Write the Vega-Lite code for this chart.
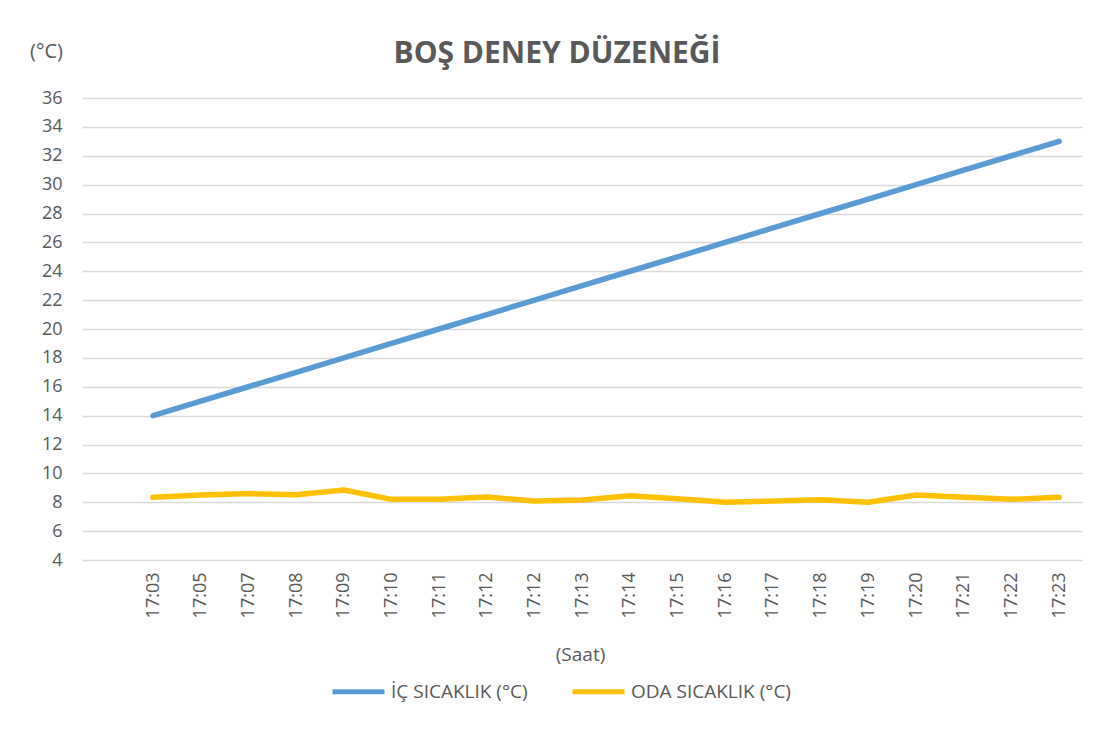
{
  "$schema": "https://vega.github.io/schema/vega-lite/v6.json",
  "width": 1000,
  "height": 462,
  "autosize": "none",
  "padding": {"left": 82, "top": 98, "right": 26, "bottom": 173},
  "background": "white",
  "config": {
    "font": "Open Sans",
    "view": {"stroke": null},
    "title": {"font": "Open Sans", "fontSize": 30, "fontWeight": "bold", "color": "#595959"}
  },
  "title": {"text": "BOŞ DENEY DÜZENEĞİ", "anchor": "middle", "dx": -25, "offset": -28},
  "data": {
    "values": [
      {"i": 0, "saat": "17:03", "seri": "İÇ SICAKLIK (°C)", "deger": 14},
      {"i": 1, "saat": "17:05", "seri": "İÇ SICAKLIK (°C)", "deger": 15},
      {"i": 2, "saat": "17:07", "seri": "İÇ SICAKLIK (°C)", "deger": 16},
      {"i": 3, "saat": "17:08", "seri": "İÇ SICAKLIK (°C)", "deger": 17},
      {"i": 4, "saat": "17:09", "seri": "İÇ SICAKLIK (°C)", "deger": 18},
      {"i": 5, "saat": "17:10", "seri": "İÇ SICAKLIK (°C)", "deger": 19},
      {"i": 6, "saat": "17:11", "seri": "İÇ SICAKLIK (°C)", "deger": 20},
      {"i": 7, "saat": "17:12", "seri": "İÇ SICAKLIK (°C)", "deger": 21},
      {"i": 8, "saat": "17:12", "seri": "İÇ SICAKLIK (°C)", "deger": 22},
      {"i": 9, "saat": "17:13", "seri": "İÇ SICAKLIK (°C)", "deger": 23},
      {"i": 10, "saat": "17:14", "seri": "İÇ SICAKLIK (°C)", "deger": 24},
      {"i": 11, "saat": "17:15", "seri": "İÇ SICAKLIK (°C)", "deger": 25},
      {"i": 12, "saat": "17:16", "seri": "İÇ SICAKLIK (°C)", "deger": 26},
      {"i": 13, "saat": "17:17", "seri": "İÇ SICAKLIK (°C)", "deger": 27},
      {"i": 14, "saat": "17:18", "seri": "İÇ SICAKLIK (°C)", "deger": 28},
      {"i": 15, "saat": "17:19", "seri": "İÇ SICAKLIK (°C)", "deger": 29},
      {"i": 16, "saat": "17:20", "seri": "İÇ SICAKLIK (°C)", "deger": 30},
      {"i": 17, "saat": "17:21", "seri": "İÇ SICAKLIK (°C)", "deger": 31},
      {"i": 18, "saat": "17:22", "seri": "İÇ SICAKLIK (°C)", "deger": 32},
      {"i": 19, "saat": "17:23", "seri": "İÇ SICAKLIK (°C)", "deger": 33},
      {"i": 0, "saat": "17:03", "seri": "ODA SICAKLIK (°C)", "deger": 8.34},
      {"i": 1, "saat": "17:05", "seri": "ODA SICAKLIK (°C)", "deger": 8.5},
      {"i": 2, "saat": "17:07", "seri": "ODA SICAKLIK (°C)", "deger": 8.6},
      {"i": 3, "saat": "17:08", "seri": "ODA SICAKLIK (°C)", "deger": 8.52},
      {"i": 4, "saat": "17:09", "seri": "ODA SICAKLIK (°C)", "deger": 8.85},
      {"i": 5, "saat": "17:10", "seri": "ODA SICAKLIK (°C)", "deger": 8.2},
      {"i": 6, "saat": "17:11", "seri": "ODA SICAKLIK (°C)", "deger": 8.2},
      {"i": 7, "saat": "17:12", "seri": "ODA SICAKLIK (°C)", "deger": 8.36},
      {"i": 8, "saat": "17:12", "seri": "ODA SICAKLIK (°C)", "deger": 8.08},
      {"i": 9, "saat": "17:13", "seri": "ODA SICAKLIK (°C)", "deger": 8.15},
      {"i": 10, "saat": "17:14", "seri": "ODA SICAKLIK (°C)", "deger": 8.45},
      {"i": 11, "saat": "17:15", "seri": "ODA SICAKLIK (°C)", "deger": 8.24},
      {"i": 12, "saat": "17:16", "seri": "ODA SICAKLIK (°C)", "deger": 8.0},
      {"i": 13, "saat": "17:17", "seri": "ODA SICAKLIK (°C)", "deger": 8.08},
      {"i": 14, "saat": "17:18", "seri": "ODA SICAKLIK (°C)", "deger": 8.17},
      {"i": 15, "saat": "17:19", "seri": "ODA SICAKLIK (°C)", "deger": 8.0},
      {"i": 16, "saat": "17:20", "seri": "ODA SICAKLIK (°C)", "deger": 8.5},
      {"i": 17, "saat": "17:21", "seri": "ODA SICAKLIK (°C)", "deger": 8.34},
      {"i": 18, "saat": "17:22", "seri": "ODA SICAKLIK (°C)", "deger": 8.2},
      {"i": 19, "saat": "17:23", "seri": "ODA SICAKLIK (°C)", "deger": 8.34}
    ]
  },
  "mark": {"type": "line", "strokeWidth": 5.5, "strokeCap": "round", "strokeJoin": "round"},
  "encoding": {
    "x": {
      "field": "i",
      "type": "quantitative",
      "scale": {"domain": [-1.49, 19.48], "nice": false, "zero": false},
      "axis": {
        "values": [0, 1, 2, 3, 4, 5, 6, 7, 8, 9, 10, 11, 12, 13, 14, 15, 16, 17, 18, 19],
        "labelExpr": "['17:03','17:05','17:07','17:08','17:09','17:10','17:11','17:12','17:12','17:13','17:14','17:15','17:16','17:17','17:18','17:19','17:20','17:21','17:22','17:23'][datum.value]",
        "labelAngle": -90,
        "labelFontSize": 18,
        "labelColor": "#595959",
        "labelPadding": 12,
        "grid": false,
        "ticks": false,
        "domain": false,
        "title": "(Saat)",
        "titleFontSize": 19,
        "titleFontWeight": "normal",
        "titleColor": "#595959",
        "titlePadding": 28,
        "titleX": 498
      }
    },
    "y": {
      "field": "deger",
      "type": "quantitative",
      "scale": {"domain": [4, 36], "nice": false, "zero": false},
      "axis": {
        "values": [4, 6, 8, 10, 12, 14, 16, 18, 20, 22, 24, 26, 28, 30, 32, 34, 36],
        "gridColor": "#D9D9D9",
        "gridWidth": 1.5,
        "domain": false,
        "ticks": false,
        "labelFontSize": 18,
        "labelColor": "#595959",
        "labelPadding": 20,
        "title": "(°C)",
        "titleAngle": 0,
        "titleFontSize": 20,
        "titleFontWeight": "normal",
        "titleColor": "#595959",
        "titleX": -36,
        "titleY": -47,
        "titleAlign": "center",
        "titleBaseline": "middle"
      }
    },
    "color": {
      "field": "seri",
      "type": "nominal",
      "scale": {"domain": ["İÇ SICAKLIK (°C)", "ODA SICAKLIK (°C)"], "range": ["#5B9BD5", "#FFC000"]},
      "legend": {
        "orient": "none",
        "legendX": 248,
        "legendY": 565,
        "direction": "horizontal",
        "title": null,
        "symbolType": "stroke",
        "symbolSize": 2700,
        "symbolStrokeWidth": 5,
        "labelFontSize": 19,
        "labelColor": "#595959",
        "labelOffset": 4,
        "columnPadding": 34,
        "labelLimit": 300
      }
    }
  }
}
